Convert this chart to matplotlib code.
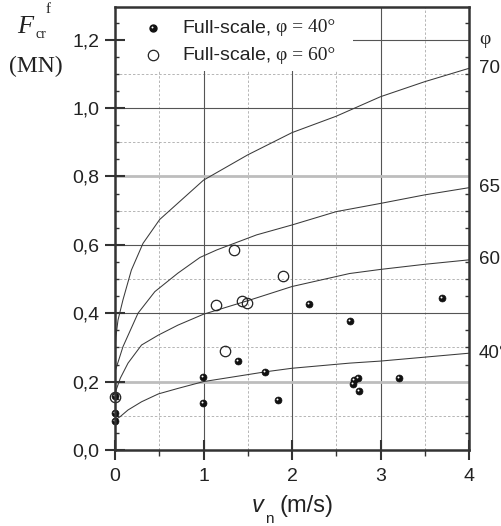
import matplotlib
matplotlib.use("Agg")
import matplotlib.pyplot as plt
from matplotlib.ticker import MultipleLocator, FixedLocator, FuncFormatter
from matplotlib.patches import Rectangle
import matplotlib.transforms as mtransforms

# ---- data ----
v_70 = [0, 0.01, 0.034, 0.09, 0.185, 0.316, 0.505, 1.0, 1.5, 2.0, 2.5, 3.0, 3.5, 4.0]
f_70 = [0.29, 0.331, 0.38, 0.439, 0.526, 0.604, 0.674, 0.789, 0.863, 0.928, 0.976, 1.033, 1.077, 1.116]
v_65 = [0, 0.09, 0.26, 0.45, 0.71, 0.96, 1.15, 1.6, 2.0, 2.5, 3.0, 3.5, 4.0]
f_65 = [0.229, 0.302, 0.40, 0.463, 0.517, 0.563, 0.585, 0.629, 0.658, 0.697, 0.721, 0.746, 0.767]
v_60 = [0, 0.06, 0.147, 0.30, 0.49, 0.71, 1.0, 1.53, 2.0, 2.65, 3.0, 3.5, 4.0]
f_60 = [0.166, 0.21, 0.254, 0.307, 0.336, 0.365, 0.397, 0.439, 0.478, 0.516, 0.528, 0.543, 0.556]
v_40 = [0, 0.056, 0.147, 0.30, 0.49, 0.71, 1.0, 1.71, 2.0, 2.65, 3.0, 4.0]
f_40 = [0.088, 0.097, 0.117, 0.141, 0.164, 0.18, 0.2, 0.229, 0.239, 0.254, 0.26, 0.283]
curve_labels = ["70°", "65°", "60°", "40°"]

fs_v40 = [0, 0, 0, 0.99, 0.99, 1.39, 1.695, 1.845, 2.195, 2.65, 2.69, 2.70, 2.75, 2.76, 3.21, 3.70]
fs_f40 = [0.159, 0.107, 0.084, 0.214, 0.137, 0.261, 0.227, 0.146, 0.426, 0.378, 0.193, 0.205, 0.21, 0.173, 0.21, 0.445]
fs_v60 = [0, 1.14, 1.24, 1.34, 1.43, 1.49, 1.895]
fs_f60 = [0.156, 0.424, 0.29, 0.585, 0.437, 0.429, 0.509]

x_ticks = [0, 1, 2, 3, 4]
y_ticks = [0.0, 0.2, 0.4, 0.6, 0.8, 1.0, 1.2]

W, H = 502, 526
fig = plt.figure(figsize=(W / 100, H / 100), dpi=100)
fig.patch.set_facecolor("white")

L, R, T, B = 115, 469, 7, 450
ax = fig.add_axes([L / W, 1 - B / H, (R - L) / W, (B - T) / H])
ax.set_xlim(0, 4)
ax.set_ylim(0, (B - T) / 342.0)

def px(x, y):
    return x / W, 1 - y / H

SANS = "Liberation Sans"
SERIF = "Liberation Serif"
dark = "#333333"

# ---- grid ----
for x in [0.5, 1.5, 2.5, 3.5]:
    ax.axvline(x, color="#b5b5b5", lw=0.7, ls=(0, (2.5, 2)), zorder=0)
for y in [0.1, 0.3, 0.5, 0.7, 0.9, 1.1]:
    ax.axhline(y, color="#b5b5b5", lw=0.7, ls=(0, (2.5, 2)), zorder=0)
for x in [1, 2, 3]:
    ax.axvline(x, color="#555555", lw=0.8, zorder=0.5)
for y in [0.4, 0.6, 1.0, 1.2]:
    ax.axhline(y, color="#555555", lw=0.8, zorder=0.5)
for y in [0.2, 0.8]:
    ax.axhline(y, color="#bdbdbd", lw=2.0, zorder=0.6)

# legend background (white box covering the grid)
ax.add_patch(Rectangle((0, 1.108), 2.69, 0.3, facecolor="white", edgecolor="none", zorder=1))

# ---- curves ----
for vv, ff in [(v_70, f_70), (v_65, f_65), (v_60, f_60), (v_40, f_40)]:
    ax.plot(vv, ff, color="#3a3a3a", lw=0.75, zorder=2)

for lab, ff in zip(curve_labels, [f_70, f_65, f_60, f_40]):
    ax.text(4.11, ff[-1], lab, fontsize=13.5, family=SANS, color="#222222",
            va="center", ha="left", clip_on=False)
ax.text(4.12, 1.2, "φ", fontsize=14, family=SERIF, color="#222222",
        va="center", ha="left", clip_on=False)

# ---- scatter ----
ax.plot(fs_v60, fs_f60, ls="none", marker="o", ms=7.5, mfc="none", mec="#222222",
        mew=0.9, zorder=3, clip_on=False)
ax.plot(fs_v40, fs_f40, ls="none", marker="o", ms=5, mfc="#111111", mec="#111111",
        mew=0.5, zorder=4, clip_on=False)
hl = mtransforms.offset_copy(ax.transData, fig=fig, x=-0.7, y=0.7, units="points")
ax.plot(fs_v40, fs_f40, ls="none", marker="o", ms=1.4, mfc="white", mec="white",
        mew=0, transform=hl, zorder=5, clip_on=False)

# ---- legend (manual) ----
leg_marker_x = 153
ax.plot([(leg_marker_x - L) / 88.5], [(B - 28) / 342.0], marker="o", ms=5,
        mfc="#111111", mec="#111111", zorder=4, clip_on=False)
ax.plot([(leg_marker_x - L) / 88.5 - 0.7 / 72 * 100 / 88.5], [(B - 28) / 342.0 + 0.7 / 72 * 100 / 342.0],
        marker="o", ms=1.4, mfc="white", mec="white", mew=0, zorder=5, clip_on=False)
ax.plot([(leg_marker_x - L) / 88.5], [(B - 55) / 342.0], marker="o", ms=7.5,
        mfc="none", mec="#222222", mew=0.9, zorder=4, clip_on=False)
for yrow, ang in [(28, "40°"), (55, "60°")]:
    fig.text(*px(182, yrow), "Full-scale,", fontsize=14, family=SANS,
             color="#222222", va="center", ha="left")
    fig.text(*px(276, yrow), "φ = " + ang, fontsize=14, family=SERIF,
             color="#222222", va="center", ha="left")

# ---- axes styling ----
for s in ax.spines.values():
    s.set_color(dark)
    s.set_linewidth(1.8)
    s.set_zorder(6)

ax.xaxis.set_major_locator(FixedLocator(x_ticks))
ax.xaxis.set_minor_locator(MultipleLocator(0.5))
ax.yaxis.set_major_locator(FixedLocator(y_ticks))
ax.yaxis.set_minor_locator(MultipleLocator(0.05))
ax.yaxis.set_major_formatter(FuncFormatter(lambda v, p: f"{v:.1f}".replace(".", ",")))
ax.xaxis.set_major_formatter(FuncFormatter(lambda v, p: f"{v:.0f}"))

ax.tick_params(axis="both", which="major", direction="inout", length=14, width=1.5,
               color=dark, labelsize=14, labelcolor="#222222")
ax.tick_params(axis="both", which="minor", direction="out", length=4, width=1.0, color=dark)
ax.tick_params(axis="y", which="minor", right=True, direction="in", length=3)
ax.tick_params(axis="y", which="major", pad=4)
ax.tick_params(axis="x", which="major", pad=6)
for lab in ax.get_xticklabels() + ax.get_yticklabels():
    lab.set_family(SANS)

# ---- axis labels ----
fig.text(*px(17, 33), "F", fontsize=19, family=SERIF, style="italic", color="#222222",
         va="baseline", ha="left")
fig.text(*px(36, 38), "cr", fontsize=10, family=SERIF, color="#222222",
         va="baseline", ha="left")
fig.text(*px(46, 13), "f", fontsize=11, family=SERIF, color="#222222",
         va="baseline", ha="left")
fig.text(*px(9, 72), "(MN)", fontsize=17, family=SERIF, color="#222222",
         va="baseline", ha="left")

fig.text(*px(252, 512), "v", fontsize=17, family=SANS, style="italic", color="#222222",
         va="baseline", ha="left")
fig.text(*px(265, 523), "n", fontsize=11, family=SANS, color="#222222",
         va="baseline", ha="left")
fig.text(*px(280, 512), "(m/s)", fontsize=17, family=SANS, color="#222222",
         va="baseline", ha="left")

fig.savefig("out.png", dpi=100, facecolor="white")
